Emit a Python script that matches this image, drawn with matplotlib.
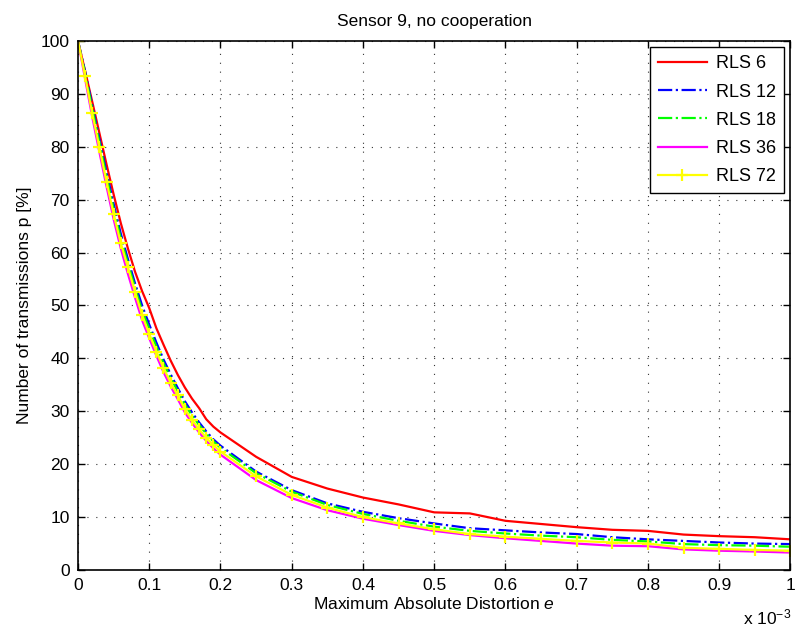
import matplotlib
matplotlib.use("Agg")
import matplotlib.pyplot as plt
import numpy as np

plt.rcParams['font.family'] = ['Liberation Sans', 'DejaVu Sans']
plt.rcParams['mathtext.fontset'] = 'custom'
plt.rcParams['mathtext.rm'] = 'Liberation Sans'
plt.rcParams['mathtext.it'] = 'Liberation Sans:italic'

# Maximum absolute distortion (x 1e-3)
distortion = [0.00, 0.01, 0.02, 0.03, 0.04, 0.05, 0.06, 0.07, 0.08, 0.09,
              0.10, 0.11, 0.12, 0.13, 0.14, 0.15, 0.16, 0.17, 0.18, 0.19,
              0.20, 0.25, 0.30, 0.35, 0.40, 0.45, 0.50, 0.55, 0.60, 0.65,
              0.70, 0.75, 0.80, 0.85, 0.90, 0.95, 1.00]

rls6 = [100, 94.3, 88.5, 82.6, 76.7, 71.0, 65.6, 60.8, 56.4, 52.7,
        49.5, 45.7, 42.6, 39.6, 36.9, 34.5, 32.4, 30.6, 28.5, 27.1,
        26.0, 21.4, 17.6, 15.4, 13.7, 12.4, 10.9, 10.7, 9.3, 8.7,
        8.1, 7.6, 7.4, 6.7, 6.4, 6.2, 5.8]
rls12 = [100, 94.2, 87.8, 81.5, 75.2, 69.2, 63.6, 58.8, 54.2, 50.0,
         46.4, 43.0, 39.8, 37.0, 34.4, 31.9, 29.8, 27.9, 26.2, 24.7,
         23.5, 18.6, 15.1, 12.6, 11.0, 9.8, 8.8, 7.9, 7.5, 7.1,
         6.8, 6.2, 5.8, 5.5, 5.2, 5.0, 4.9]
rls18 = [100, 93.8, 87.2, 80.8, 74.4, 68.3, 62.7, 58.0, 53.4, 49.0,
         45.6, 42.2, 39.1, 36.3, 33.8, 31.3, 29.2, 27.4, 25.8, 24.3,
         23.1, 18.3, 14.8, 12.3, 10.6, 9.3, 8.2, 7.4, 6.9, 6.5,
         6.2, 5.7, 5.4, 4.9, 4.7, 4.6, 4.4]
rls36 = [100, 92.8, 85.6, 79.0, 72.5, 66.3, 60.8, 56.0, 51.5, 47.2,
         43.8, 40.5, 37.4, 34.7, 32.3, 29.8, 27.8, 26.0, 24.4, 23.0,
         21.8, 17.0, 13.6, 11.3, 9.7, 8.5, 7.4, 6.6, 6.0, 5.5,
         5.0, 4.6, 4.5, 3.9, 3.65, 3.5, 3.3]
rls72 = [100, 93.3, 86.3, 79.9, 73.4, 67.3, 61.8, 57.2, 52.6, 48.2,
         44.6, 41.3, 38.2, 35.4, 33.0, 30.4, 28.4, 26.6, 25.0, 23.6,
         22.4, 17.7, 14.2, 11.8, 10.0, 8.8, 7.7, 6.8, 6.3, 5.9,
         5.5, 5.2, 5.0, 4.2, 4.0, 3.8, 3.65]

series_labels = ['RLS 6', 'RLS 12', 'RLS 18', 'RLS 36', 'RLS 72']
x_ticks = [0, 0.1, 0.2, 0.3, 0.4, 0.5, 0.6, 0.7, 0.8, 0.9, 1]
x_tick_labels = ['0', '0.1', '0.2', '0.3', '0.4', '0.5', '0.6', '0.7', '0.8', '0.9', '1']
y_ticks = list(range(0, 101, 10))

fig = plt.figure(figsize=(7.96, 6.30), dpi=100)
ax = fig.add_axes([0.098, 0.0952, 0.895, 0.8398])

ax.plot(distortion, rls6, color='#ff0000', lw=1.6, ls='-', label=series_labels[0])
ax.plot(distortion, rls12, color='#0000ff', lw=1.6, ls='-.', label=series_labels[1])
ax.plot(distortion, rls18, color='#00ff00', lw=1.6, ls='-.', label=series_labels[2])
ax.plot(distortion, rls36, color='#ff00ff', lw=1.6, ls='-', label=series_labels[3])
ax.plot(distortion, rls72, color='#ffff00', lw=1.6, ls='-', marker='+',
        markersize=8, markeredgewidth=1.6, label=series_labels[4])

ax.set_xlim(0, 1)
ax.set_ylim(0, 100)
ax.set_xticks(x_ticks)
ax.set_xticklabels(x_tick_labels)
ax.set_yticks(y_ticks)

ax.grid(True, color='#333333', ls=(0, (1, 7)), lw=0.8)
ax.tick_params(direction='in', top=True, right=True, length=5, width=1,
               labelsize=12.5, pad=6)
for sp in ax.spines.values():
    sp.set_linewidth(1.2)

ax.set_title('Sensor 9, no cooperation', fontsize=12.5, pad=11)
ax.set_xlabel('Maximum Absolute Distortion $e$', fontsize=12.5, labelpad=2)
ax.set_ylabel('Number of transmissions p [%]', fontsize=12.5, labelpad=6)

fig.text(0.933, 0.004, r'x 10$^{-3}$', fontsize=12.5, ha='left', va='bottom')

leg = ax.legend(loc='upper right', fontsize=13, frameon=True, fancybox=False,
                edgecolor='black', framealpha=1, handlelength=2.7,
                borderaxespad=0.35, labelspacing=0.62, handletextpad=0.5,
                borderpad=0.45)
leg.get_frame().set_linewidth(1.0)

fig.savefig('out.png', dpi=100)
